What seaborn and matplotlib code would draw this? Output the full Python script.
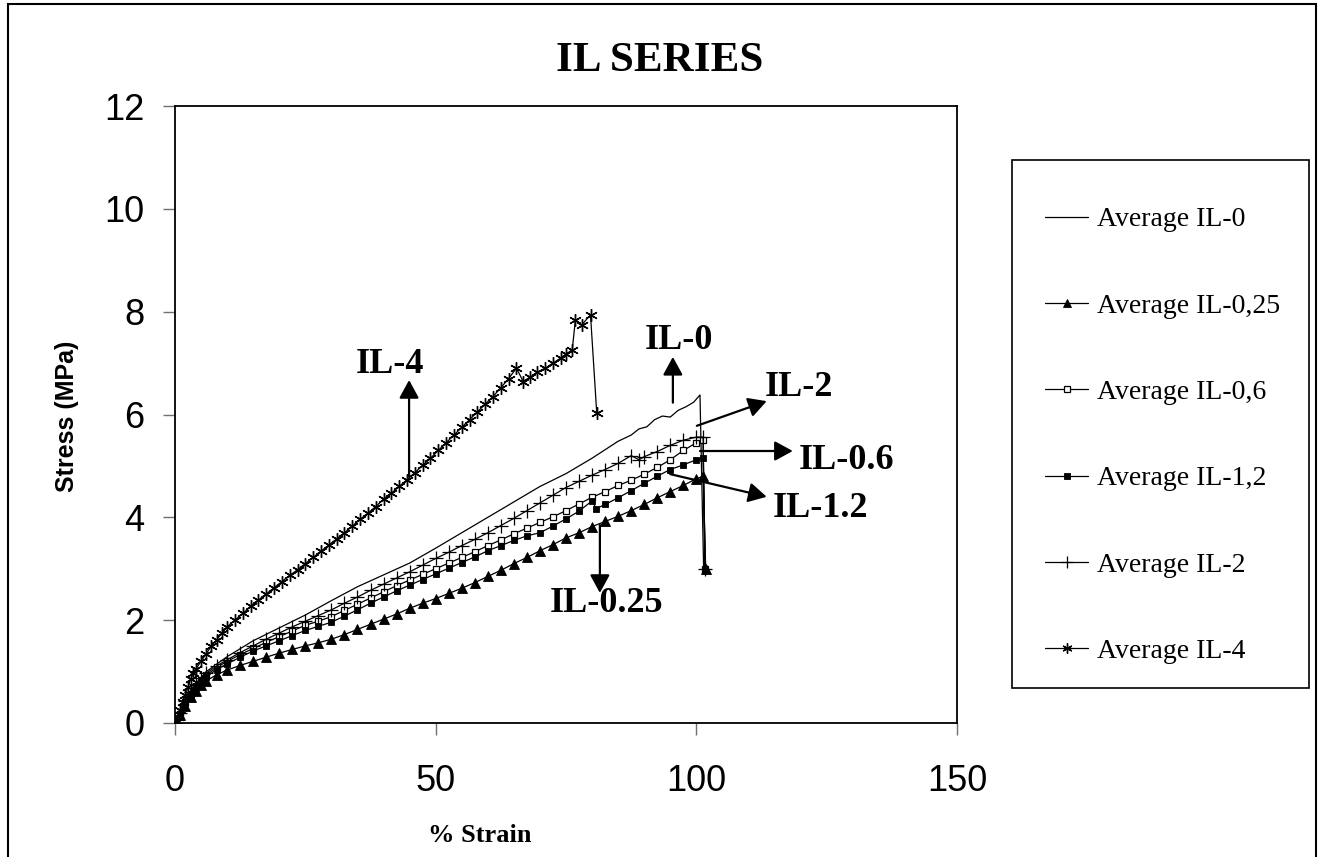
import matplotlib
matplotlib.use("Agg")
import matplotlib.pyplot as plt
from matplotlib.patches import Rectangle
from matplotlib.font_manager import FontProperties
import seaborn as sns
import pandas as pd

# ---------------- data ----------------
il0_strain = [0, 1, 2, 3.5, 6, 10, 15, 20, 25, 30, 35, 40, 45, 50, 55, 60, 65, 70, 75, 80, 85,
              87.5, 89, 90.5, 92, 93.5, 95, 96.5, 98, 99.5, 100.7, 101.4]
il0_stress = [0, 0.2, 0.45, 0.71, 1.0, 1.29, 1.6, 1.85, 2.1, 2.38, 2.65, 2.88, 3.11, 3.4, 3.7, 4.0, 4.3,
              4.6, 4.85, 5.15, 5.48, 5.6, 5.72, 5.76, 5.9, 5.97, 5.95, 6.08, 6.15, 6.24, 6.38, 3.0]

il025_strain = [0, 1, 2, 3, 4, 5, 6, 8, 10, 12.5, 15, 17.5, 20, 22.5, 25, 27.5, 30, 32.5, 35, 37.5, 40,
                42.5, 45, 47.5, 50, 52.5, 55, 57.5, 60, 62.5, 65, 67.5, 70, 72.5, 75, 77.5, 80, 82.5,
                85, 87.5, 90, 92.5, 95, 97.5, 100, 101.3, 101.8]
il025_stress = [0, 0.15, 0.33, 0.5, 0.63, 0.74, 0.82, 0.94, 1.03, 1.12, 1.2, 1.28, 1.36, 1.43, 1.5, 1.56,
                1.63, 1.72, 1.82, 1.92, 2.02, 2.12, 2.23, 2.33, 2.42, 2.52, 2.62, 2.73, 2.85, 2.97, 3.1,
                3.22, 3.35, 3.47, 3.6, 3.7, 3.82, 3.92, 4.02, 4.13, 4.25, 4.38, 4.5, 4.62, 4.75, 4.8, 3.0]

il06_strain = [0, 1, 2, 3, 4, 5, 6, 8, 10, 12.5, 15, 17.5, 20, 22.5, 25, 27.5, 30, 32.5, 35, 37.5, 40,
               42.5, 45, 47.5, 50, 52.5, 55, 57.5, 60, 62.5, 65, 67.5, 70, 72.5, 75, 77.5, 80, 82.5,
               85, 87.5, 90, 92.5, 95, 97.5, 100, 101.3, 101.6]
il06_stress = [0, 0.18, 0.4, 0.57, 0.72, 0.83, 0.93, 1.08, 1.2, 1.33, 1.45, 1.57, 1.68, 1.79, 1.9, 1.98,
               2.07, 2.19, 2.31, 2.43, 2.55, 2.67, 2.78, 2.89, 3.0, 3.11, 3.22, 3.33, 3.45, 3.56, 3.68,
               3.79, 3.9, 4.01, 4.13, 4.26, 4.39, 4.5, 4.62, 4.72, 4.84, 4.97, 5.12, 5.3, 5.45, 5.5, 3.0]

il12_strain = [0, 1, 2, 3, 4, 5, 6, 8, 10, 12.5, 15, 17.5, 20, 22.5, 25, 27.5, 30, 32.5, 35, 37.5, 40,
               42.5, 45, 47.5, 50, 52.5, 55, 57.5, 60, 62.5, 65, 67.5, 70, 72.5, 75, 77.5, 80, 80.8,
               82.5, 85, 87.5, 90, 92.5, 95, 97.5, 100, 101.3, 101.7]
il12_stress = [0, 0.17, 0.38, 0.54, 0.69, 0.8, 0.9, 1.04, 1.15, 1.28, 1.4, 1.5, 1.6, 1.7, 1.8, 1.88,
               1.96, 2.08, 2.2, 2.33, 2.45, 2.57, 2.68, 2.79, 2.9, 3.01, 3.12, 3.23, 3.35, 3.45, 3.55,
               3.64, 3.7, 3.83, 3.97, 4.12, 4.32, 4.17, 4.25, 4.38, 4.52, 4.66, 4.8, 4.93, 5.02, 5.12,
               5.15, 3.0]

il2_strain = [0, 1, 2, 3, 4, 5, 6, 8, 10, 12.5, 15, 17.5, 20, 22.5, 25, 27.5, 30, 32.5, 35, 37.5, 40,
              42.5, 45, 47.5, 50, 52.5, 55, 57.5, 60, 62.5, 65, 67.5, 70, 72.5, 75, 77.5, 80, 82.5,
              85, 87.5, 89, 90, 92.5, 95, 97.5, 100, 101.3, 101.7]
il2_stress = [0, 0.2, 0.42, 0.6, 0.75, 0.87, 0.97, 1.11, 1.23, 1.37, 1.5, 1.63, 1.75, 1.87, 1.98, 2.09,
              2.2, 2.33, 2.45, 2.58, 2.7, 2.82, 2.94, 3.07, 3.2, 3.32, 3.45, 3.57, 3.7, 3.84, 3.98,
              4.13, 4.28, 4.43, 4.58, 4.7, 4.82, 4.93, 5.05, 5.2, 5.12, 5.18, 5.28, 5.4, 5.5, 5.56,
              5.56, 3.0]

il4_strain = [0, 0.5, 1, 1.5, 2, 2.5, 3, 3.5, 4, 5, 6, 7, 8, 9, 10, 11.5, 13, 14.5, 16, 17.5, 19, 20.5,
              22, 23.5, 25, 26.5, 28, 29.5, 31, 32.5, 34, 35.5, 37, 38.5, 40, 41.5, 43, 44.5, 46, 47.5,
              49, 50.5, 52, 53.5, 55, 56.5, 58, 59.5, 61, 62.5, 64, 65.5, 66.8, 68, 69.5, 71, 72.5,
              74, 75, 76.2, 76.8, 78, 79.7, 80.9]
il4_stress = [0, 0.12, 0.25, 0.4, 0.55, 0.7, 0.85, 0.97, 1.05, 1.2, 1.35, 1.5, 1.62, 1.75, 1.87, 2.0,
              2.13, 2.27, 2.39, 2.51, 2.63, 2.75, 2.87, 2.98, 3.1, 3.22, 3.34, 3.46, 3.58, 3.7, 3.83,
              3.96, 4.08, 4.21, 4.35, 4.47, 4.6, 4.73, 4.87, 5.01, 5.15, 5.3, 5.45, 5.6, 5.75, 5.9,
              6.05, 6.2, 6.35, 6.52, 6.7, 6.9, 6.64, 6.72, 6.82, 6.9, 7.0, 7.1, 7.17, 7.26, 7.84,
              7.74, 7.94, 6.02]

series_labels = ["Average IL-0", "Average IL-0,25", "Average IL-0,6",
                 "Average IL-1,2", "Average IL-2", "Average IL-4"]

x_ticks = [0, 50, 100, 150]
y_ticks = [0, 2, 4, 6, 8, 10, 12]

# annotation texts: (label, text position, arrow tail, arrow tip) in data units
annot_labels = ["IL-4", "IL-0", "IL-2", "IL-0.6", "IL-1.2", "IL-0.25"]
annot_text_pos = [(41.2, 6.97), (96.7, 7.43), (119.7, 6.52), (128.9, 5.10), (123.9, 4.18), (82.7, 2.33)]
annot_tail = [(44.9, 4.79), (95.5, 6.23), (100.1, 5.78), (100.7, 5.29), (95.0, 4.84), (81.5, 3.85)]
annot_tip = [(44.9, 6.67), (95.5, 7.12), (113.5, 6.26), (118.5, 5.29), (113.5, 4.40), (81.5, 2.53)]

# ---------------- styling ----------------
sns.set_theme(style="white")
plt.rcParams["font.family"] = ["Liberation Sans", "DejaVu Sans"]
plt.rcParams["text.color"] = "black"
plt.rcParams["axes.labelcolor"] = "black"
plt.rcParams["xtick.color"] = "black"
plt.rcParams["ytick.color"] = "black"
SERIF = "Liberation Serif"

W, H = 1319, 857
fig = plt.figure(figsize=(W / 100, H / 100), dpi=100, facecolor="white")
ax = fig.add_axes([175 / W, 1 - 723 / H, (957 - 175) / W, (723 - 106) / H])
ax.set_facecolor("white")

styles = [
    dict(marker="None"),
    dict(marker="^", ms=6.5, mfc="black", mec="black", mew=0.6),
    dict(marker="s", ms=5, mfc="white", mec="black", mew=0.9),
    dict(marker="s", ms=5, mfc="black", mec="black", mew=0.6),
    dict(marker="+", ms=10, mfc="black", mec="black", mew=0.9),
    dict(marker=(6, 2, 0), ms=9, mfc="black", mec="black", mew=1.0),
]
xs = [il0_strain, il025_strain, il06_strain, il12_strain, il2_strain, il4_strain]
ys = [il0_stress, il025_stress, il06_stress, il12_stress, il2_stress, il4_stress]

for lab, x, y, st in zip(series_labels, xs, ys, styles):
    df = pd.DataFrame({"strain": x, "stress": y})
    sns.lineplot(data=df, x="strain", y="stress", ax=ax, color="black", lw=0.9,
                 sort=False, estimator=None, label=lab, **st)

ax.set_xlim(0, 150)
ax.set_ylim(0, 12)
ax.set_xticks(x_ticks)
ax.set_yticks(y_ticks)
ax.set_xticklabels([str(v) for v in x_ticks])
ax.set_yticklabels([str(v) for v in y_ticks])
ax.tick_params(axis="x", direction="out", length=8.5, width=1, color="#707070",
               labelcolor="black", labelsize=26, pad=21, bottom=True)
ax.tick_params(axis="y", direction="out", length=9, width=1, color="#707070",
               labelcolor="black", labelsize=26, pad=13, left=True)
for sp in ax.spines.values():
    sp.set_color("black")
    sp.set_linewidth(1.3)
    sp.set_visible(True)

ax.set_xlabel("% Strain", fontfamily=SERIF, fontweight="bold", fontsize=19, color="black")
ax.xaxis.label.set_va("center")
ax.xaxis.set_label_coords((480 - 175) / (957 - 175), -(836 - 723) / (723 - 106))
ax.set_ylabel("Stress (MPa)", fontweight="bold", fontsize=18, color="black")
ax.yaxis.label.set_va("center")
ax.yaxis.set_label_coords(-(175 - 67) / (957 - 175), (723 - 416) / (723 - 106))

fig.text(0.5, 1 - 61 / H, "IL SERIES", ha="center", va="center",
         fontfamily=SERIF, fontweight="bold", fontsize=31, color="black")

for lab, tp, tail, tip in zip(annot_labels, annot_text_pos, annot_tail, annot_tip):
    ax.annotate("", xy=tip, xytext=tail,
                arrowprops=dict(arrowstyle="-|>,head_length=0.55,head_width=0.3",
                                color="black", lw=1.6, mutation_scale=20,
                                shrinkA=0, shrinkB=0))
    ax.text(tp[0], tp[1], lab, ha="center", va="center", fontfamily=SERIF,
            fontweight="bold", fontsize=26, color="black")

handles, labels = ax.get_legend_handles_labels()
leg = ax.legend(handles, labels, loc="upper left",
                bbox_to_anchor=(1045 / W, 1 - 207 / H), bbox_transform=fig.transFigure,
                frameon=False, borderpad=0, borderaxespad=0, handlelength=1.55,
                handletextpad=0.32, labelspacing=2.19, markerscale=0.8,
                prop=FontProperties(family=SERIF, size=20))
for t in leg.get_texts():
    t.set_color("black")

fig.patches.append(Rectangle((1012 / W, 1 - 688 / H), 297 / W, 528 / H, transform=fig.transFigure,
                             fill=False, ec="black", lw=1.2))
fig.patches.append(Rectangle((8 / W, -0.01), (1316 - 8) / W, 1.01 - 4 / H, transform=fig.transFigure,
                             fill=False, ec="black", lw=1.5))

fig.savefig("out.png", dpi=100, facecolor="white")
